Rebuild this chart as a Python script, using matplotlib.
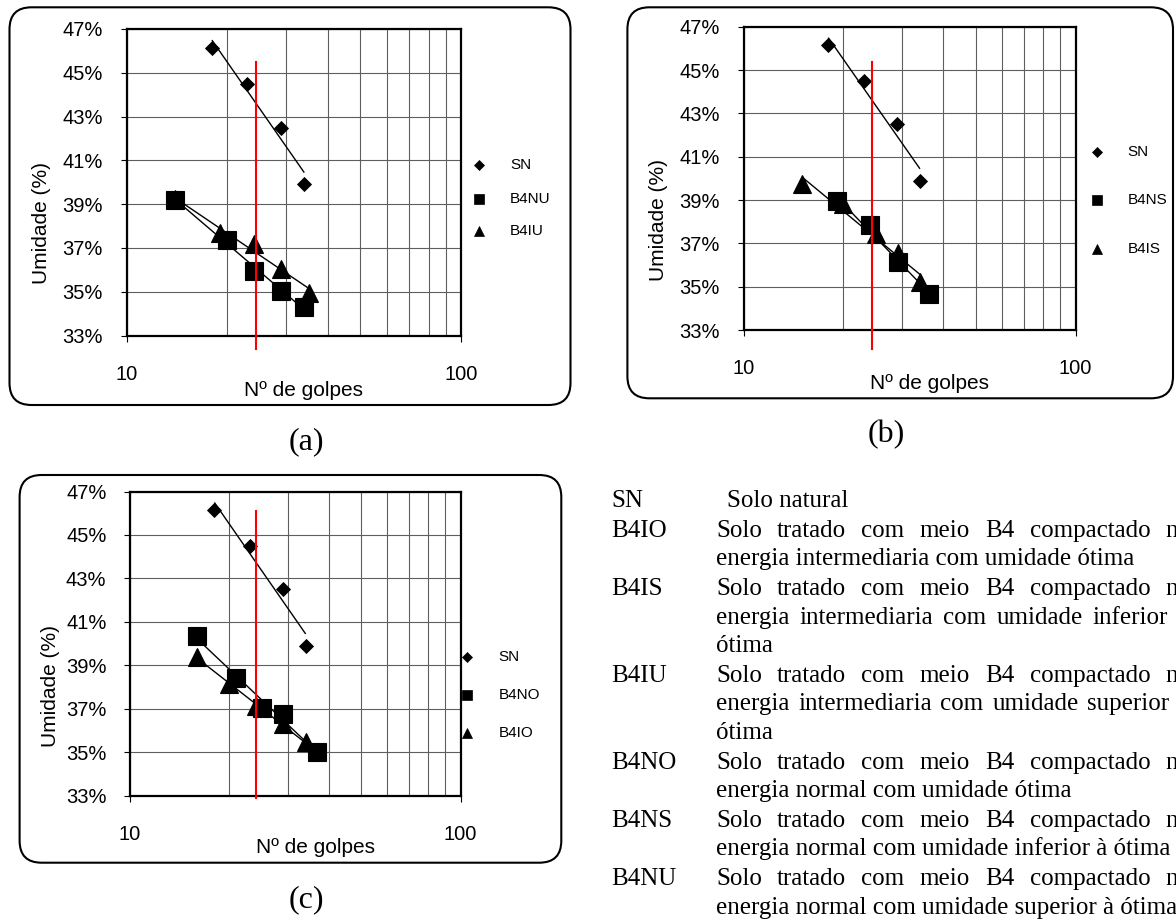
import numpy as np
import matplotlib
matplotlib.use("Agg")
import matplotlib.pyplot as plt
from matplotlib.patches import FancyBboxPatch
from matplotlib.ticker import FixedLocator, NullFormatter, FuncFormatter
from matplotlib.font_manager import FontProperties

W, H = 1176, 919

# ---------------- data ----------------
sn_x = [18.0, 23.0, 29.0, 34.0]
sn_y = [46.15, 44.5, 42.5, 39.9]

b4nu_x = [14.0, 20.0, 24.0, 28.9, 33.9]
b4nu_y = [39.2, 37.35, 35.95, 35.05, 34.3]
b4iu_x = [14.0, 19.0, 24.1, 29.0, 35.2]
b4iu_y = [39.25, 37.7, 37.2, 36.05, 34.95]

b4ns_x = [19.1, 24.1, 29.1, 36.2]
b4ns_y = [38.95, 37.85, 36.15, 34.65]
b4is_x = [15.0, 20.0, 25.1, 29.1, 34.1]
b4is_y = [39.75, 38.8, 37.45, 36.55, 35.2]

b4no_x = [16.0, 21.0, 25.1, 29.0, 36.9]
b4no_y = [40.35, 38.4, 37.05, 36.75, 35.0]
b4io_x = [15.95, 19.9, 24.0, 29.0, 34.0]
b4io_y = [39.4, 38.15, 37.1, 36.3, 35.45]

y_ticks = [33, 35, 37, 39, 41, 43, 45, 47]
x_major = [10, 100]
x_minor = [20, 30, 40, 50, 60, 70, 80, 90]

# red reference line per panel (x, y from, y to)
red_x = [24.4, 24.4, 24.0]
red_y0 = [32.37, 32.11, 32.9]
red_y1 = [45.48, 45.36, 46.12]

panel_labels = ["(a)", "(b)", "(c)"]
legend_labels = [["SN", "B4NU", "B4IU"], ["SN", "B4NS", "B4IS"], ["SN", "B4NO", "B4IO"]]

codes = ["SN", "B4IO", "B4IS", "B4IU", "B4NO", "B4NS", "B4NU"]
desc_lines = [
    ["Solo natural"],
    ["Solo tratado com meio B4 compactado na", "energia intermediaria com umidade ótima"],
    ["Solo tratado com meio B4 compactado na", "energia intermediaria com umidade inferior à", "ótima"],
    ["Solo tratado com meio B4 compactado na", "energia intermediaria com umidade superior à", "ótima"],
    ["Solo tratado com meio B4 compactado na", "energia normal com umidade ótima"],
    ["Solo tratado com meio B4 compactado na", "energia normal com umidade inferior à ótima"],
    ["Solo tratado com meio B4 compactado na", "energia normal com umidade superior à ótima"],
]

# ---------------- layout (pixels) ----------------
SANS = "Liberation Sans"
SERIF = "Liberation Serif"

panels = [
    dict(ax=(126.5, 461.0, 29.0, 335.5), box=(9.5, 570.5, 7.3, 405.0),
         ylab=(41.4, 222.7), xlab=(304.0, 390.0),
         leg_mx=479.3, leg_tx=510.0, leg_y=[165.3, 198.7, 230.7],
         lab=(306.0, 442.0),
         series=[(b4nu_x, b4nu_y, "s"), (b4iu_x, b4iu_y, "^")]),
    dict(ax=(743.5, 1075.5, 26.7, 330.0), box=(627.4, 1173.0, 7.3, 398.3),
         ylab=(659.0, 220.0), xlab=(930.0, 383.3),
         leg_mx=1097.0, leg_tx=1127.4, leg_y=[151.7, 200.0, 249.3],
         lab=(886.0, 435.0),
         series=[(b4ns_x, b4ns_y, "s"), (b4is_x, b4is_y, "^")]),
    dict(ax=(130.0, 460.5, 491.5, 795.5), box=(19.6, 561.3, 475.0, 862.7),
         ylab=(51.0, 686.0), xlab=(315.3, 847.7),
         leg_mx=466.7, leg_tx=498.3, leg_y=[657.3, 695.0, 732.7],
         lab=(306.6, 900.0),
         series=[(b4no_x, b4no_y, "s"), (b4io_x, b4io_y, "^")]),
]

fig = plt.figure(figsize=(W / 100, H / 100), dpi=100)
fig.patch.set_facecolor("white")

ov = fig.add_axes([0, 0, 1, 1], zorder=0)
ov.set_xlim(0, W)
ov.set_ylim(H, 0)
ov.axis("off")


def trend(ax, x, y):
    lx = np.log10(np.asarray(x))
    b, a = np.polyfit(lx, np.asarray(y), 1)
    xs = np.array([min(x), max(x)])
    ax.plot(xs, a + b * np.log10(xs), color="black", lw=1.0, zorder=3,
            solid_capstyle="butt")


for i, p in enumerate(panels):
    L, R, T, B = p["ax"]
    bx0, bx1, by0, by1 = p["box"]
    ov.add_patch(FancyBboxPatch((bx0, by0), bx1 - bx0, by1 - by0,
                                boxstyle="round,pad=0,rounding_size=22",
                                fc="white", ec="black", lw=1.5))
    ax = fig.add_axes([L / W, (H - B) / H, (R - L) / W, (B - T) / H], zorder=1)
    ax.set_facecolor("white")
    ax.set_xscale("log")
    ax.set_xlim(10, 100)
    ax.set_ylim(33, 47)
    ax.xaxis.set_major_locator(FixedLocator(x_major))
    ax.xaxis.set_minor_locator(FixedLocator(x_minor))
    ax.xaxis.set_major_formatter(FuncFormatter(lambda v, pos: f"{v:g}"))
    ax.xaxis.set_minor_formatter(NullFormatter())
    ax.yaxis.set_major_locator(FixedLocator(y_ticks))
    ax.yaxis.set_major_formatter(FuncFormatter(lambda v, pos: f"{v:.0f}%"))
    ax.grid(True, which="both", axis="x", color="#5e5e5e", lw=0.8)
    ax.grid(True, which="major", axis="y", color="#5e5e5e", lw=0.8)
    ax.set_axisbelow(True)
    for s in ax.spines.values():
        s.set_linewidth(1.6)
        s.set_color("black")
    ax.tick_params(axis="y", which="major", direction="out", length=4, width=0.8,
                   pad=13, labelsize=14.5, left=True, right=False)
    ax.tick_params(axis="x", which="major", direction="out", length=4.5, width=0.8,
                   pad=16.5, labelsize=14.5, bottom=True, top=False)
    ax.tick_params(axis="x", which="minor", length=0)
    for lbl in ax.get_xticklabels() + ax.get_yticklabels():
        lbl.set_fontfamily(SANS)

    # SN series
    ax.plot(sn_x, sn_y, linestyle="none", marker="D", ms=7.2, mfc="black",
            mec="black", mew=0.6, zorder=4)
    trend(ax, sn_x, sn_y)
    for (sx, sy, mk) in p["series"]:
        ax.plot(sx, sy, linestyle="none", marker=mk, ms=13.2, mfc="black",
                mec="black", mew=0.8, zorder=4)
        trend(ax, sx, sy)

    # red reference line
    ax.plot([red_x[i], red_x[i]], [red_y0[i], red_y1[i]], color="#ff0000", lw=1.5,
            zorder=5, clip_on=False)

    # axis titles
    ax.set_ylabel("Umidade (%)", fontsize=15, fontfamily=SANS, va="center")
    ax.yaxis.set_label_coords((p["ylab"][0] - L) / (R - L), (B - p["ylab"][1]) / (B - T))
    ax.set_xlabel("Nº de golpes", fontsize=15, fontfamily=SANS, va="center")
    ax.xaxis.set_label_coords((p["xlab"][0] - L) / (R - L), (B - p["xlab"][1]) / (B - T))

    # legend (manual, to the right of the plot)
    mks = [("D", 4.8), ("s", 6.5), ("^", 6.8)]
    for (mk, ms), name, ly in zip(mks, legend_labels[i], p["leg_y"]):
        ov.plot([p["leg_mx"]], [ly], marker=mk, ms=ms, mfc="black", mec="black",
                mew=0.5, linestyle="none")
        ov.text(p["leg_tx"], ly, name, fontsize=11, fontfamily=SANS,
                ha="left", va="center")

    ov.text(p["lab"][0], p["lab"][1], panel_labels[i], fontsize=23,
            fontfamily=SERIF, ha="center", va="center")

# ---------------- legend text block (justified like the source) ----------------
renderer = fig.canvas.get_renderer()
fp = FontProperties(family=SERIF, size=18)
code_x = 611.7
desc_x = 716.0
right_x = 1189.0
line_h = 28.4
para_gap = 1.5
y = 500.0


def text_w(s):
    t = ov.text(0, 0, s, fontproperties=fp)
    w = t.get_window_extent(renderer).width
    t.remove()
    return w


for code, lines in zip(codes, desc_lines):
    ov.text(code_x, y + 7, code, fontproperties=fp, ha="left", va="baseline")
    for j, line in enumerate(lines):
        yb = y + 7
        x0 = desc_x + (11 if code == "SN" else 0)
        last = (j == len(lines) - 1)
        if last:
            ov.text(x0, yb, line, fontproperties=fp, ha="left", va="baseline")
        else:
            words = line.split(" ")
            widths = [text_w(wd) for wd in words]
            gap = (right_x - x0 - sum(widths)) / (len(words) - 1)
            cx = x0
            for wd, ww in zip(words, widths):
                ov.text(cx, yb, wd, fontproperties=fp, ha="left", va="baseline")
                cx += ww + gap
        y += line_h
    y += para_gap

fig.savefig("out.png", dpi=100, facecolor="white")
